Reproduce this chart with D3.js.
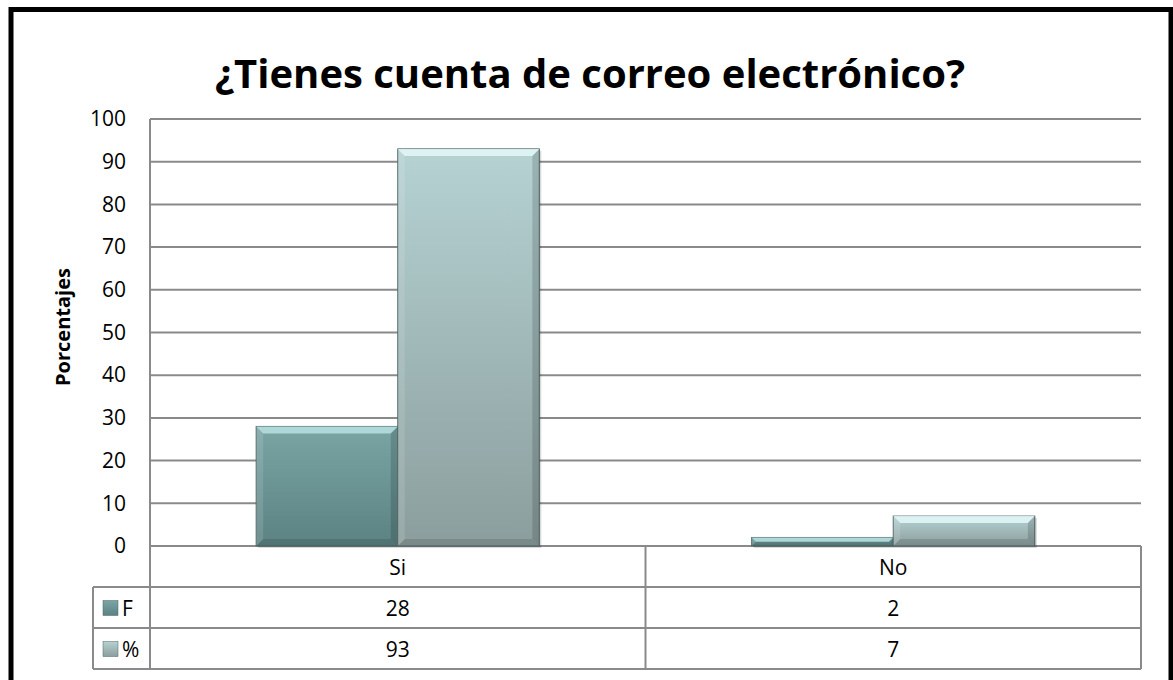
<!DOCTYPE html>
<html>
<head>
<meta charset="utf-8">
<script src="https://cdn.jsdelivr.net/npm/d3@7"></script>
<style>
  body { margin: 0; background: #fff; overflow: hidden; }
  text { font-family: "Open Sans", "Noto Sans", sans-serif; fill: #000; }
</style>
</head>
<body>
<script>
var categories = ["Si", "No"];
var seriesNames = ["F", "%"];
var valuesF = [28, 2];
var valuesPct = [93, 7];
var yTicks = [0, 10, 20, 30, 40, 50, 60, 70, 80, 90, 100];

var W = 1173, H = 680;
var svg = d3.select("body").append("svg")
    .attr("width", W)
    .attr("height", H)
    .style("display", "block");

var pLeft = 150, pRight = 1141, pTop = 119, pBottom = 546;
var rowH = 41, legendLeft = 93;

var series = [
    { name: seriesNames[0], values: valuesF, top: "#7aa5a5", bot: "#5c8282", bevel: "#b8e0e0" },
    { name: seriesNames[1], values: valuesPct, top: "#b6d2d3", bot: "#8b9e9d", bevel: "#e4f8f8" }
];

var defs = svg.append("defs");
series.forEach(function(s, i) {
    var g = defs.append("linearGradient")
        .attr("id", "grad" + i)
        .attr("x1", 0).attr("y1", 0).attr("x2", 0).attr("y2", 1);
    g.append("stop").attr("offset", "0%").attr("stop-color", s.top);
    g.append("stop").attr("offset", "100%").attr("stop-color", s.bot);
});

// outer frame (bottom edge falls outside the picture)
svg.append("rect")
    .attr("x", 11).attr("y", 9.5)
    .attr("width", 1160).attr("height", 700)
    .attr("fill", "#fff")
    .attr("stroke", "#000")
    .attr("stroke-width", 5);

svg.append("text")
    .attr("x", 590).attr("y", 88)
    .attr("text-anchor", "middle")
    .style("font-size", "40px")
    .style("font-weight", "bold")
    .text("¿Tienes cuenta de correo electrónico?");

var y = d3.scaleLinear().domain([0, 100]).range([pBottom, pTop]);
var x0 = d3.scaleBand().domain(categories).range([pLeft, pRight]);
var x1 = d3.scaleBand().domain(seriesNames)
    .range([0, x0.bandwidth()]).paddingOuter(0.75).paddingInner(0);

// gridlines
svg.append("g").selectAll("line")
    .data(yTicks)
    .join("line")
    .attr("x1", pLeft).attr("x2", pRight)
    .attr("y1", function(d) { return y(d); })
    .attr("y2", function(d) { return y(d); })
    .attr("stroke", "#8a8a8a")
    .attr("stroke-width", 2);

// y axis labels
var yAxis = d3.axisLeft(y).tickValues(yTicks).tickSize(0).tickPadding(24);
var ya = svg.append("g").attr("transform", "translate(" + pLeft + ",0)").call(yAxis);
ya.select(".domain").remove();
ya.selectAll("text")
    .style("font-family", "'Open Sans', 'Noto Sans', sans-serif")
    .style("font-size", "21px")
    .attr("fill", "#000");

svg.append("text")
    .attr("transform", "translate(70,327) rotate(-90)")
    .attr("text-anchor", "middle")
    .style("font-size", "20px")
    .style("font-weight", "bold")
    .text("Porcentajes");

// bars
var bev = 7;
series.forEach(function(s, i) {
    var g = svg.append("g");
    categories.forEach(function(c, j) {
        var bx = x0(c) + x1(s.name), bw = x1.bandwidth();
        var by = y(s.values[j]), bh = pBottom - by;
        var b = Math.min(bev, bh / 2);
        g.append("rect")
            .attr("x", bx + 2).attr("y", by + 2)
            .attr("width", bw).attr("height", bh)
            .attr("fill", "#000").attr("opacity", 0.15);
        g.append("rect")
            .attr("x", bx).attr("y", by)
            .attr("width", bw).attr("height", bh)
            .attr("fill", "url(#grad" + i + ")")
            .attr("stroke", "#4e6464").attr("stroke-width", 1);
        // top bevel
        g.append("polygon")
            .attr("points", [[bx, by], [bx + bw, by], [bx + bw - b, by + b], [bx + b, by + b]].join(" "))
            .attr("fill", s.bevel).attr("opacity", 0.85);
        // side bevels
        g.append("polygon")
            .attr("points", [[bx, by], [bx + b, by + b], [bx + b, by + bh - b], [bx, by + bh]].join(" "))
            .attr("fill", "#fff").attr("opacity", 0.12);
        g.append("polygon")
            .attr("points", [[bx + bw, by], [bx + bw - b, by + b], [bx + bw - b, by + bh - b], [bx + bw, by + bh]].join(" "))
            .attr("fill", "#000").attr("opacity", 0.15);
        g.append("polygon")
            .attr("points", [[bx, by + bh], [bx + b, by + bh - b], [bx + bw - b, by + bh - b], [bx + bw, by + bh]].join(" "))
            .attr("fill", "#000").attr("opacity", 0.12);
    });
});

// data table
var t = svg.append("g").attr("stroke", "#8a8a8a").attr("stroke-width", 2);
t.append("line").attr("x1", pLeft).attr("x2", pLeft).attr("y1", pTop).attr("y2", pBottom + 3 * rowH);
t.append("line").attr("x1", pRight).attr("x2", pRight).attr("y1", pBottom).attr("y2", pBottom + 3 * rowH);
t.append("line").attr("x1", legendLeft).attr("x2", legendLeft).attr("y1", pBottom + rowH).attr("y2", pBottom + 3 * rowH);
t.append("line").attr("x1", x0(categories[1])).attr("x2", x0(categories[1])).attr("y1", pBottom).attr("y2", pBottom + 3 * rowH);
[1, 2, 3].forEach(function(r) {
    t.append("line").attr("x1", legendLeft).attr("x2", pRight)
        .attr("y1", pBottom + r * rowH).attr("y2", pBottom + r * rowH);
});

categories.forEach(function(c) {
    svg.append("text")
        .attr("x", x0(c) + x0.bandwidth() / 2).attr("y", pBottom + rowH / 2 + 8)
        .attr("text-anchor", "middle").style("font-size", "21px").text(c);
});
series.forEach(function(s, i) {
    var ry = pBottom + (i + 1) * rowH;
    svg.append("rect")
        .attr("x", legendLeft + 10).attr("y", ry + rowH / 2 - 7)
        .attr("width", 15).attr("height", 15)
        .attr("fill", "url(#grad" + i + ")").attr("stroke", "#4e6464").attr("stroke-width", 0.5);
    svg.append("text")
        .attr("x", legendLeft + 29).attr("y", ry + rowH / 2 + 8)
        .style("font-size", "21px").text(s.name);
    categories.forEach(function(c, j) {
        svg.append("text")
            .attr("x", x0(c) + x0.bandwidth() / 2).attr("y", ry + rowH / 2 + 8)
            .attr("text-anchor", "middle").style("font-size", "21px").text(s.values[j]);
    });
});
</script>
</body>
</html>
